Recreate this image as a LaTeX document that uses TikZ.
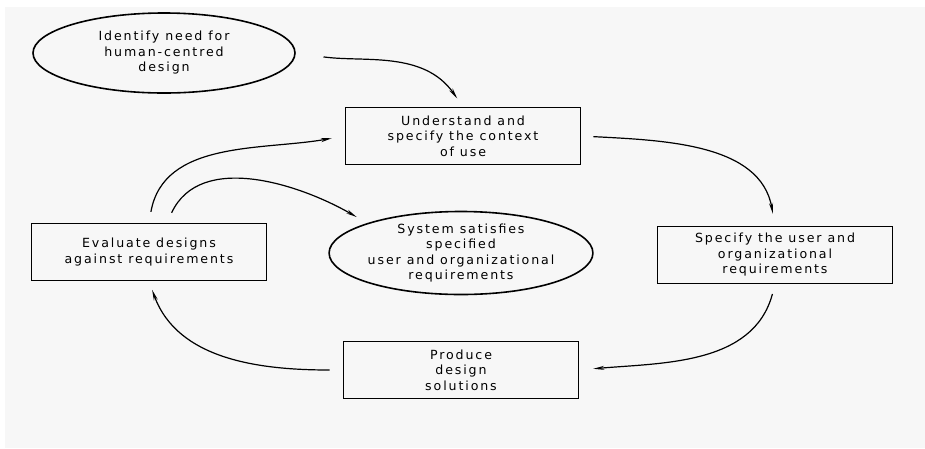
\documentclass[tikz,border=0pt]{standalone}
\usepackage{fontspec}
\setmainfont{DejaVu Sans}[LetterSpace=15]
\usepackage{tikz}
\usepackage{xcolor}
\usetikzlibrary{shapes.geometric,arrows.meta}
\definecolor{paper}{HTML}{F7F7F7}

\begin{document}
\begin{tikzpicture}[x=1pt, y=1pt,
    stagebox/.style={draw, line width=1.6pt, minimum width=235pt, minimum height=57pt,
      inner sep=0pt, align=center, font=\fontsize{12.6}{15.5}\selectfont},
    goaloval/.style={draw, ellipse, line width=1.6pt, minimum width=262pt, minimum height=80pt,
      inner sep=0pt, align=center, font=\fontsize{12.6}{15.5}\selectfont},
    flow/.style={line width=1.2pt, -{Stealth[length=11pt, width=4pt]}}]
  % Paper
  \useasboundingbox (0,0) rectangle (925,-448);
  \fill[paper] (5,-7) rectangle (925,-448);

  % Stages
  \node[goaloval] (need) at (164,-53) {Identify need for\\human-centred\\design};
  \node[stagebox] (context) at (463,-136) {Understand and\\specify the context\\of use};
  \node[stagebox] (reqs) at (775,-255) {Specify the user and\\organizational\\requirements};
  \node[stagebox] (produce) at (461,-370) {Produce\\design\\solutions};
  \node[stagebox] (evaluate) at (149,-252) {Evaluate designs\\against requirements};
  \node[goaloval] (goal) at (461,-253) {System satisfies\\specified\\user and organizational\\requirements};

  % Cycle
  \draw[flow, shorten <=28pt, shorten >=10pt] (need.east) to[out=-8, in=125] (context.north);
  \draw[flow, shorten <=12pt, shorten >=12pt] (context.east) to[out=-3, in=100] (reqs.north);
  \draw[flow, shorten <=10pt, shorten >=14pt] (reqs.south) to[out=-105, in=5] (produce.east);
  \draw[flow, shorten <=13pt, shorten >=9pt] (produce.west) to[out=180, in=-70] (evaluate.south);
  \draw[flow, shorten <=11pt, shorten >=13pt] (evaluate.north) to[out=80, in=190] (context.west);
  \draw[flow, shorten <=11pt, shorten >=12pt] ([xshift=18pt]evaluate.north) to[out=65, in=150] (goal.north west);
\end{tikzpicture}
\end{document}
